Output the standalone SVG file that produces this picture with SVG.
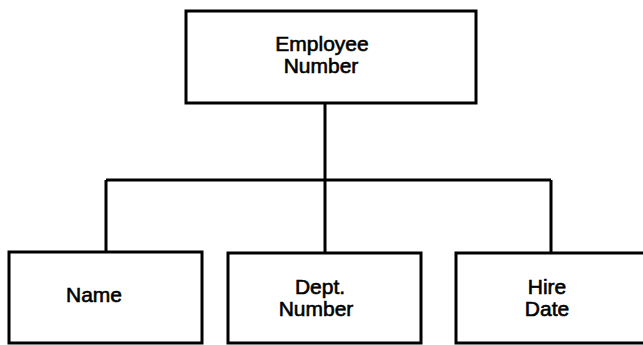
<svg xmlns="http://www.w3.org/2000/svg" width="643" height="345" viewBox="0 0 643 345">
<style>
.box{fill:#fff;stroke:#000;stroke-width:3}
.ln{fill:none;stroke:#000;stroke-width:3}
text{font-family:"Liberation Sans",Arial,sans-serif;font-size:21px;fill:#000;stroke:#000;stroke-width:0.6;text-anchor:middle}
</style>
<rect width="643" height="345" fill="#fff"/>
<g id="connectors">
<path class="ln" d="M325 103 V180 M106 180 H551 M106 180 V252 M325 180 V253 M551 180 V253"/>
</g>
<g id="employee-number">
<rect class="box" x="186" y="11" width="290" height="92"/>
<text x="322" y="51">Employee</text>
<text x="321" y="73">Number</text>
</g>
<g id="name">
<rect class="box" x="9" y="252" width="193" height="91"/>
<text x="94" y="302">Name</text>
</g>
<g id="dept-number">
<rect class="box" x="228" y="253" width="193" height="90"/>
<text x="320" y="294">Dept.</text>
<text x="316" y="316">Number</text>
</g>
<g id="hire-date">
<rect class="box" x="456" y="253" width="200" height="90"/>
<text x="547" y="294">Hire</text>
<text x="547" y="316">Date</text>
</g>
</svg>
